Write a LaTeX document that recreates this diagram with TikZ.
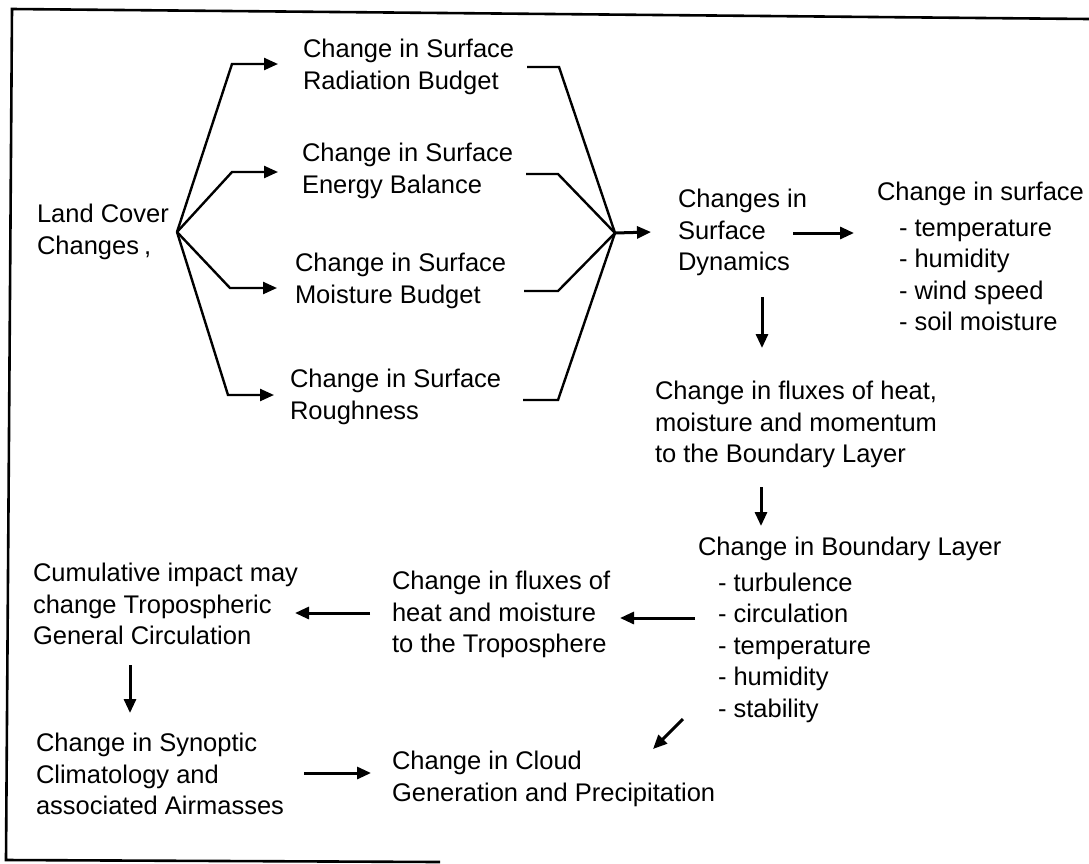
\documentclass[tikz,border=0pt]{standalone}
\usepackage{fontspec}
\setmainfont{Liberation Sans}
\usetikzlibrary{arrows.meta}
\begin{document}
\begin{tikzpicture}[x=1pt,y=-1pt,
  txt/.style={anchor=north west,inner sep=0pt,outer sep=0pt,align=left,
    font=\fontsize{25.5}{31.5}\selectfont},
  frameline/.style={line width=2.6pt},
  conn/.style={line width=2.4pt},
  branch/.style={line width=2.4pt,-{Triangle[length=14pt,width=12pt]}},
  arr/.style={line width=3pt,-{Triangle[length=14pt,width=12pt]}}]
\useasboundingbox (0,0) rectangle (1089,863);
% frame
\draw[frameline] (1089,19) -- (12,9) -- (6,860) -- (440,862);
% nodes
\node[txt] (lc) at (37,204.5) {Land Cover\\Changes\hspace{5pt},};
\node[txt] (rad) at (303,39.5) {Change in Surface\\Radiation Budget};
\node[txt] (ene) at (302,143.5) {Change in Surface\\Energy Balance};
\node[txt] (moi) at (295,253.5) {Change in Surface\\Moisture Budget};
\node[txt] (rou) at (290,369.5) {Change in Surface\\Roughness};
\node[txt] (dyn) at (678,189.5) {Changes in\\Surface\\Dynamics};
\node[txt] (surf) at (877,182.5) {Change in surface\\[4pt]\hspace*{22pt}- temperature\\\hspace*{22pt}- humidity\\\hspace*{22pt}- wind speed\\\hspace*{22pt}- soil moisture};
\node[txt] (fhb) at (655,381.5) {Change in fluxes of heat,\\moisture and momentum\\to the Boundary Layer};
\node[txt] (bl) at (698,537.5) {Change in Boundary Layer\\[4pt]\hspace*{20pt}- turbulence\\\hspace*{20pt}- circulation\\\hspace*{20pt}- temperature\\\hspace*{20pt}- humidity\\\hspace*{20pt}- stability};
\node[txt] (trop) at (392,571.5) {Change in fluxes of\\heat and moisture\\to the Troposphere};
\node[txt] (cum) at (33,563.5) {Cumulative impact may\\change Tropospheric\\General Circulation};
\node[txt] (syn) at (36,733.5) {Change in Synoptic\\Climatology and\\associated Airmasses};
\node[txt] (cloud) at (392,751.5) {Change in Cloud\\Generation and Precipitation};
% connector points
\coordinate (lcO) at (177,232);
\coordinate (radIn) at (278,64);
\coordinate (eneIn) at (278,172);
\coordinate (moiIn) at (277,288);
\coordinate (rouIn) at (274,395);
\coordinate (radOut) at (527,67);
\coordinate (eneOut) at (526,174);
\coordinate (moiOut) at (524,291);
\coordinate (rouOut) at (523,400);
\coordinate (conv) at (615,233);
\coordinate (dynIn) at (651,232);
\coordinate (dynR) at (793,233);
\coordinate (surfL) at (854,233);
\coordinate (dynB) at (762,297);
\coordinate (fhbT) at (762,348);
\coordinate (fhbB) at (761,487);
\coordinate (blT) at (761,526);
\coordinate (blL) at (695,618);
\coordinate (tropR) at (620,618);
\coordinate (tropL) at (370,613);
\coordinate (cumR) at (295,613);
\coordinate (cumB) at (130,665);
\coordinate (synT) at (130,713);
\coordinate (synR) at (304,773);
\coordinate (cloudL) at (371,773);
\coordinate (blB) at (683,719);
\coordinate (cloudR) at (653,749);
% branches out of land cover changes
\draw[branch] (lcO) -- (232,64) -- (radIn);
\draw[branch] (lcO) -- (232,172) -- (eneIn);
\draw[branch] (lcO) -- (230,288) -- (moiIn);
\draw[branch] (lcO) -- (228,395) -- (rouIn);
% converging into surface dynamics
\draw[conn] (radOut) -- (559,67) -- (conv);
\draw[conn] (eneOut) -- (558,174) -- (conv);
\draw[conn] (moiOut) -- (558,291) -- (conv);
\draw[conn] (rouOut) -- (558,400) -- (conv);
\draw[arr] (conv) -- (dynIn);
% main chain
\draw[arr] (dynR) -- (surfL);
\draw[arr] (dynB) -- (fhbT);
\draw[arr] (fhbB) -- (blT);
\draw[arr] (blL) -- (tropR);
\draw[arr] (tropL) -- (cumR);
\draw[arr] (cumB) -- (synT);
\draw[arr] (synR) -- (cloudL);
\draw[arr] (blB) -- (cloudR);
\end{tikzpicture}
\end{document}
